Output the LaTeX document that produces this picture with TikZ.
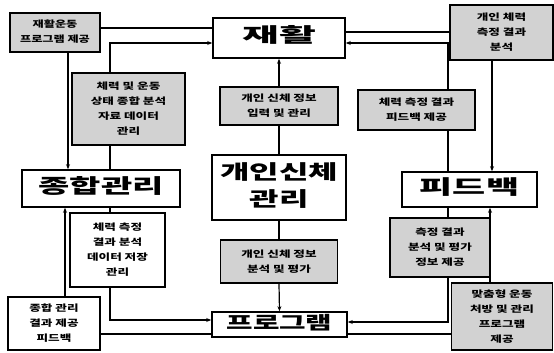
\documentclass[tikz,border=0pt]{standalone}
\usepackage{fontspec}
\newfontfamily\kr{Noto Sans CJK KR}
\usetikzlibrary{arrows.meta}
\newcommand\wtxt[2]{\scalebox{#1}[1]{\begin{tabular}{@{}c@{}}#2\end{tabular}}}
\begin{document}
\begin{tikzpicture}[x=1pt,y=-1pt,
  mainbox/.style={draw,line width=1.6pt,fill=white,inner sep=0pt,
    font=\kr\bfseries\fontsize{20}{24}\selectfont},
  graybox/.style={draw,line width=1.6pt,fill=gray!35,inner sep=0pt,
    font=\kr\bfseries\fontsize{9}{15}\selectfont},
  whitebox/.style={graybox,fill=white},
  conn/.style={line width=1.2pt},
  arr/.style={conn,-{Stealth[length=5pt,width=4pt]}}]
\useasboundingbox (0,0) rectangle (554,353);
% main boxes
\node[mainbox,minimum width=132pt,minimum height=40pt] (T) at (279,38) {\wtxt{2.0}{재활}};
\node[mainbox,minimum width=134pt,minimum height=65pt,font=\kr\bfseries\fontsize{20}{27}\selectfont] (C) at (279,187.5) {\wtxt{1.6}{개인신체\\관리}};
\node[mainbox,minimum width=135pt,minimum height=25pt,font=\kr\bfseries\fontsize{18}{20}\selectfont] (B) at (279.5,324.5) {\wtxt{1.6}{프로그램}};
\node[mainbox,minimum width=158pt,minimum height=37pt] (L) at (101,188.5) {\wtxt{1.7}{종합관리}};
\node[mainbox,minimum width=135pt,minimum height=35pt] (R) at (469.5,189.5) {\wtxt{1.8}{피드백}};
% side boxes
\node[graybox,minimum width=90pt,minimum height=39pt] (G1) at (55,32.5) {\wtxt{1.35}{재활운동\\프로그램 제공}};
\node[graybox,minimum width=113pt,minimum height=72pt] (G2) at (128.5,109) {\wtxt{1.4}{체력 및 운동\\상태 종합 분석\\자료 데이터\\관리}};
\node[graybox,minimum width=103pt,minimum height=55pt] (G3) at (501.5,32.5) {\wtxt{1.4}{개인 체력\\측정 결과\\분석}};
\node[graybox,minimum width=117pt,minimum height=40pt] (G4) at (416.5,110) {\wtxt{1.4}{체력 측정 결과\\피드백 제공}};
\node[graybox,minimum width=118pt,minimum height=38pt] (G5) at (279,106) {\wtxt{1.4}{개인 신체 정보\\입력 및 관리}};
\node[graybox,minimum width=117pt,minimum height=43pt] (G6) at (279,261.5) {\wtxt{1.4}{개인 신체 정보\\분석 및 평가}};
\node[whitebox,minimum width=95pt,minimum height=74pt] (G7) at (117.5,250) {\wtxt{1.4}{체력 측정\\결과 분석\\데이터 저장\\관리}};
\node[whitebox,minimum width=92pt,minimum height=53pt] (G8) at (54,323.5) {\wtxt{1.4}{종합 관리\\결과 제공\\피드백}};
\node[graybox,minimum width=100pt,minimum height=59pt] (G9) at (440,247.5) {\wtxt{1.4}{측정 결과\\분석 및 평가\\정보 제공}};
\node[graybox,minimum width=101pt,minimum height=67pt] (G10) at (502,316.5) {\wtxt{1.4}{맞춤형 운동\\처방 및 관리\\프로그램\\제공}};
% connectors, left top
\draw[conn] (T.west |- 0,28) -- (G1.east |- 0,28);
\draw[arr] (68,0 |- G1.south) -- (68,0 |- L.north);
\draw[conn] (110,0 |- L.north) -- (110,0 |- G2.south);
\draw[arr] (110,0 |- G2.north) |- (T.west |- 0,43);
% right top
\draw[conn] (T.east |- 0,32) -- (G3.west |- 0,32);
\draw[arr] (492,0 |- G3.south) -- (492,0 |- R.north);
\draw[conn] (448,0 |- R.north) -- (448,0 |- G4.south);
\draw[arr] (448,0 |- G4.north) |- (T.east |- 0,43);
% centre
\draw[conn] (C.north) -- (G5.south);
\draw[arr] (G5.north) -- (T.south);
\draw[conn] (C.south) -- (G6.north);
\draw[arr] (G6.south) -- (B.north);
% left bottom
\draw[conn] (110,0 |- L.south) -- (110,0 |- G7.north);
\draw[arr] (110,0 |- G7.south) |- (B.west |- 0,320);
\draw[conn] (B.west |- 0,334) -- (G8.east |- 0,334);
\draw[arr] (65,0 |- G8.north) -- (65,0 |- L.south);
% right bottom
\draw[conn] (448,0 |- R.south) -- (448,0 |- G9.north);
\draw[arr] (448,0 |- G9.south) |- (B.east |- 0,322);
\draw[conn] (B.east |- 0,334) -- (G10.west |- 0,334);
\draw[arr] (490,0 |- G10.north) -- (490,0 |- R.south);
\end{tikzpicture}
\end{document}
